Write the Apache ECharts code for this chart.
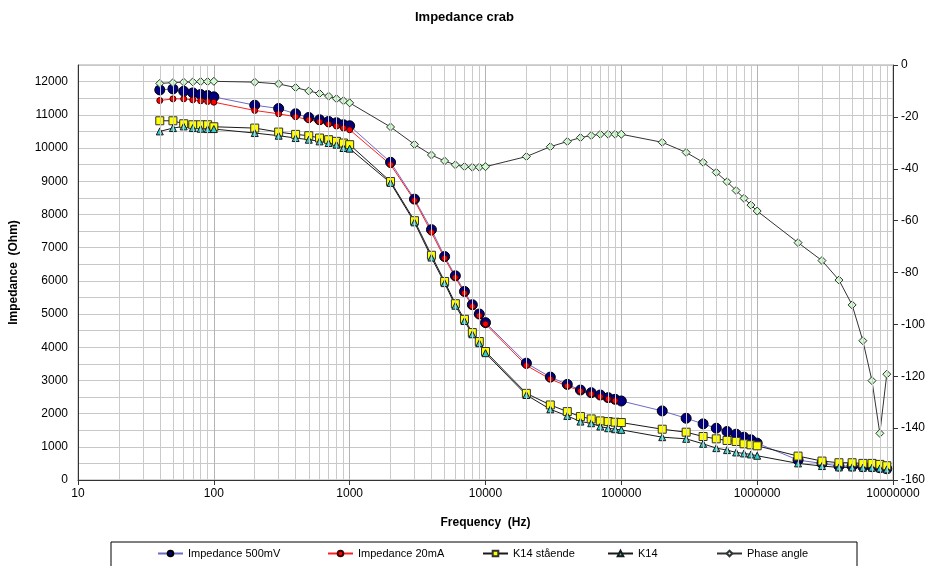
<!DOCTYPE html>
<html>
<head>
<meta charset="utf-8">
<title>Impedance crab</title>
<script src="https://cdn.jsdelivr.net/npm/echarts@6/dist/echarts.min.js"></script>
<style>
  html, body { margin: 0; padding: 0; background: #fff; }
  #chart { width: 929px; height: 566px; }
</style>
</head>
<body>
<div id="chart"></div>
<script>
// frequencies (Hz)
var freqs = [
  40, 50, 60, 70, 80, 90, 100,
  200, 300, 400, 500, 600, 700, 800, 900, 1000,
  2000, 3000, 4000, 5000, 6000, 7000, 8000, 9000, 10000,
  20000, 30000, 40000, 50000, 60000, 70000, 80000, 90000, 100000,
  200000, 300000, 400000, 500000, 600000, 700000, 800000, 900000, 1000000,
  2000000, 3000000, 4000000, 5000000, 6000000, 7000000, 8000000, 9000000
];

// impedance (Ohm)
var imp500mV = [
  11750, 11780, 11710, 11660, 11610, 11580, 11540,
  11290, 11190, 11030, 10920, 10850, 10800, 10760, 10700, 10670,
  9570, 8460, 7540, 6730, 6150, 5680, 5280, 5000, 4740,
  3520, 3100, 2880, 2710, 2630, 2560, 2480, 2430, 2380,
  2080, 1860, 1690, 1560, 1460, 1380, 1290, 1210, 1110,
  600, 500, 420, 420, 400, 400, 370, 340
];
var imp20mA = [
  11430, 11480, 11480, 11450, 11420, 11400, 11380,
  11130, 11030, 10940, 10850, 10790, 10720, 10660, 10600, 10550,
  9500, 8420, 7460, 6680, 6100, 5630, 5230, 4950, 4700,
  3450, 3040, 2830, 2680, 2590, 2510, 2440, 2390, null,
  null, null, null, null, null, null, null, null, null,
  null, null, null, null, null, null, null, null
];
var k14Staende = [
  10820, 10820, 10730, 10700, 10700, 10700, 10640,
  10600, 10480, 10410, 10370, 10300, 10250, 10200, 10150, 10100,
  8990, 7810, 6770, 5980, 5310, 4840, 4440, 4170, 3870,
  2610, 2260, 2060, 1910, 1840, 1780, 1760, 1740, 1730,
  1530, 1440, 1310, 1240, 1190, 1160, 1090, 1060, 1030,
  720, 570, 520, 520, 500, 500, 470, 430
];
var k14 = [
  10500, 10600, 10650, 10600, 10580, 10570, 10570,
  10450, 10370, 10300, 10250, 10200, 10150, 10100, 10000, 9980,
  8950, 7760, 6700, 5930, 5250, 4790, 4390, 4120, 3820,
  2560, 2130, 1930, 1760, 1710, 1610, 1560, 1530, 1510,
  1290, 1240, 1090, 960, 900, 830, 800, 770, 730,
  500, 420, 380, 380, 370, 370, 350, 320
];
// phase angle (degrees, right axis)
var phaseAngle = [
  -7.1, -6.8, -6.6, -6.5, -6.4, -6.4, -6.3,
  -6.6, -7.3, -8.7, -10, -11, -12, -13, -13.8, -14.6,
  -23.9, -30.6, -34.7, -37, -38.5, -39.2, -39.4, -39.4, -39.2,
  -35.3, -31.5, -29.5, -28, -27.2, -26.7, -26.7, -26.7, -26.7,
  -29.8, -33.7, -37.5, -41.4, -45, -48.4, -51.4, -54, -56.3,
  -68.5, -75.4, -82.9, -92.5, -106.3, -121.7, -142, -119.2
];

var seriesNames = ['Impedance 500mV', 'Impedance 20mA', 'K14 st\u00e5ende', 'K14', 'Phase angle'];
var legendLefts = [157, 327, 482, 607, 716];

var FONT = '"Liberation Sans", Arial, sans-serif';

function pairs(vals) {
  return freqs.map(function (f, i) { return [f, vals[i]]; });
}

// minor vertical grid lines (2..9 x 10^k)
var minorGrid = [];
for (var k = 1; k <= 6; k++) {
  for (var m = 2; m <= 9; m++) minorGrid.push({ xAxis: m * Math.pow(10, k) });
}

var chart = echarts.init(document.getElementById('chart'), null, { renderer: 'canvas' });

var legends = seriesNames.map(function (name, i) {
  return {
    data: [name],
    left: legendLefts[i],
    top: 548,
    itemWidth: 25,
    itemHeight: 7,
    padding: 0,
    selectedMode: false,
    textStyle: { fontSize: 11, fontFamily: FONT, color: '#000' }
  };
});

var option = {
  animation: false,
  backgroundColor: '#fff',
  title: {
    text: 'Impedance crab',
    left: 'center',
    top: 6,
    textStyle: { fontSize: 13, fontWeight: 'bold', fontFamily: FONT, color: '#000' }
  },
  legend: legends,
  graphic: [{
    type: 'rect',
    z: 0,
    shape: { x: 111, y: 542, width: 746, height: 40 },
    style: { fill: '#fff', stroke: '#000', lineWidth: 1 }
  }],
  grid: {
    left: 77, right: 36, top: 65, bottom: 86,
    show: true, borderColor: '#a6a6a6', borderWidth: 1
  },
  xAxis: {
    type: 'log',
    logBase: 10,
    min: 10,
    max: 10000000,
    splitNumber: 6,
    name: 'Frequency  (Hz)',
    nameLocation: 'middle',
    nameGap: 37,
    nameTextStyle: { fontSize: 12, fontWeight: 'bold', fontFamily: FONT, color: '#000' },
    axisLine: { onZero: false, lineStyle: { color: '#333', width: 1 } },
    axisTick: { show: true, length: 5, lineStyle: { color: '#333' } },
    axisLabel: {
      fontSize: 12, fontFamily: FONT, color: '#000', margin: 8,
      formatter: function (v) { return String(Math.round(v)); }
    },
    splitLine: { show: true, lineStyle: { color: '#b4b4b4', width: 1 } }
  },
  yAxis: [{
    type: 'value',
    min: 0,
    max: 12500,
    interval: 500,
    name: 'Impedance  (Ohm)',
    nameLocation: 'middle',
    nameGap: 58,
    nameTextStyle: { fontSize: 12, fontWeight: 'bold', fontFamily: FONT, color: '#000' },
    axisLine: { show: true, lineStyle: { color: '#333' } },
    axisTick: { show: false },
    axisLabel: {
      fontSize: 12, fontFamily: FONT, color: '#000', margin: 10,
      formatter: function (v) { return v % 1000 === 0 ? String(v) : ''; }
    },
    splitLine: { show: true, lineStyle: { color: '#c8c8c8', width: 1 } }
  }, {
    type: 'value',
    min: -160,
    max: 0,
    interval: 20,
    position: 'right',
    axisLine: { show: true, lineStyle: { color: '#333' } },
    axisTick: { show: true, length: 5, lineStyle: { color: '#333' } },
    axisLabel: { fontSize: 12, fontFamily: FONT, color: '#000', margin: 8 },
    splitLine: { show: false }
  }],
  series: [
    {
      name: 'grid-minor',
      type: 'line',
      data: [],
      z: 1,
      silent: true,
      markLine: {
        silent: true,
        symbol: 'none',
        label: { show: false },
        emphasis: { disabled: true },
        lineStyle: { color: '#cacaca', type: 'solid', width: 1 },
        data: minorGrid
      }
    },
    {
      name: seriesNames[0],
      type: 'line',
      data: pairs(imp500mV),
      symbol: 'circle',
      symbolSize: 10,
      lineStyle: { color: '#6b6bc8', width: 1 },
      itemStyle: { color: '#000080', borderColor: '#000', borderWidth: 1 }
    },
    {
      name: seriesNames[1],
      type: 'line',
      data: pairs(imp20mA),
      symbol: 'circle',
      symbolSize: 6,
      lineStyle: { color: '#ff2020', width: 1 },
      itemStyle: { color: '#ff0000', borderColor: '#400000', borderWidth: 1 }
    },
    {
      name: seriesNames[2],
      type: 'line',
      data: pairs(k14Staende),
      symbol: 'rect',
      symbolSize: 8,
      lineStyle: { color: '#1a1a1a', width: 1 },
      itemStyle: { color: '#ffff00', borderColor: '#333', borderWidth: 1 }
    },
    {
      name: seriesNames[3],
      type: 'line',
      data: pairs(k14),
      symbol: 'triangle',
      symbolSize: 7,
      lineStyle: { color: '#1a1a1a', width: 1 },
      itemStyle: { color: '#33cccc', borderColor: '#1a1a1a', borderWidth: 1 }
    },
    {
      name: seriesNames[4],
      type: 'line',
      yAxisIndex: 1,
      data: pairs(phaseAngle),
      symbol: 'diamond',
      symbolSize: 8,
      lineStyle: { color: '#333', width: 1 },
      itemStyle: { color: '#ccffcc', borderColor: '#333', borderWidth: 1 }
    }
  ]
};

chart.setOption(option);
</script>
</body>
</html>
